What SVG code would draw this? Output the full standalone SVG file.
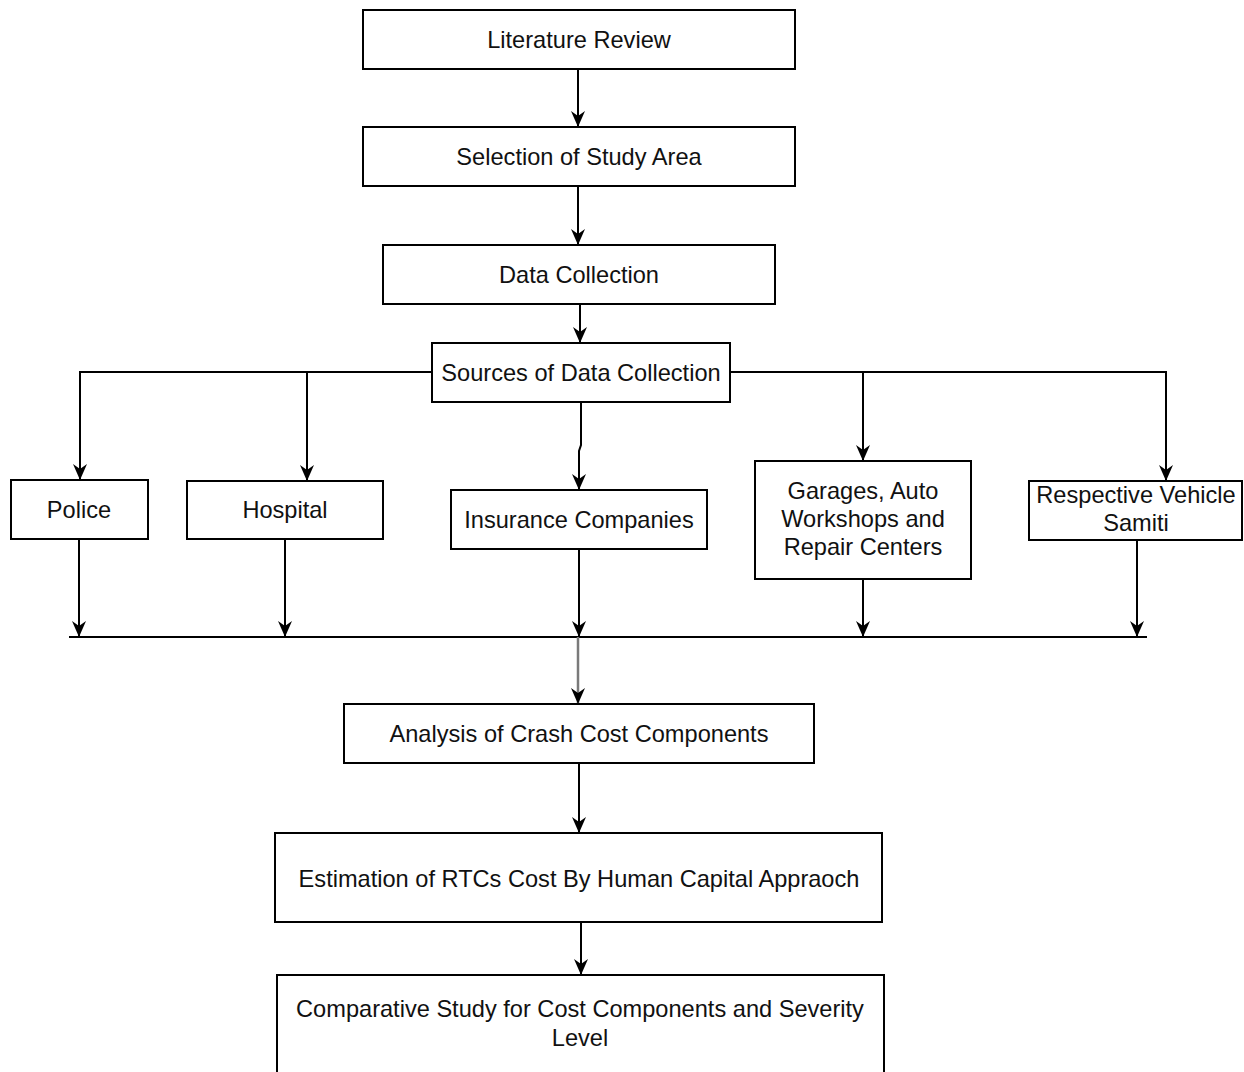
<svg xmlns="http://www.w3.org/2000/svg" width="1244" height="1072" viewBox="0 0 1244 1072">
<style>
.box{fill:#fff;stroke:#000;stroke-width:2}
.lbl{font-family:"Liberation Sans",Arial,sans-serif;font-size:23.6px;fill:#111;text-anchor:middle}
.edge{fill:none;stroke:#000;stroke-width:2}
.gray{fill:none;stroke:#7a7a7a;stroke-width:2.5}
</style>
<defs>
<marker id="arr" viewBox="0 0 16 14" refX="16" refY="7" markerWidth="16" markerHeight="14" markerUnits="userSpaceOnUse" orient="auto">
<path d="M0,0 L16,7 L0,14 L5,7 Z" fill="#000"/>
</marker>
</defs>
<rect width="1244" height="1072" fill="#fff"/>
<g id="connectors">
<path class="edge" d="M578,69 V127" marker-end="url(#arr)"/>
<path class="edge" d="M578,186 V245" marker-end="url(#arr)"/>
<path class="edge" d="M580,304 V343" marker-end="url(#arr)"/>
<path class="edge" d="M432,372 H80 V480" marker-end="url(#arr)"/>
<path class="edge" d="M307,372 V481" marker-end="url(#arr)"/>
<path class="edge" d="M730,372 H1166 V481" marker-end="url(#arr)"/>
<path class="edge" d="M863,372 V461" marker-end="url(#arr)"/>
<path class="edge" d="M581,402 V445 L579,451 V490" marker-end="url(#arr)"/>
<path class="edge" d="M79,539 V637" marker-end="url(#arr)"/>
<path class="edge" d="M285,539 V637" marker-end="url(#arr)"/>
<path class="edge" d="M579,549 V637" marker-end="url(#arr)"/>
<path class="edge" d="M863,579 V637" marker-end="url(#arr)"/>
<path class="edge" d="M1137,540 V637" marker-end="url(#arr)"/>
<path class="edge" d="M69,637 H1147"/>
<path class="gray" d="M578,637 V704" marker-end="url(#arr)"/>
<path class="edge" d="M579,763 V833" marker-end="url(#arr)"/>
<path class="edge" d="M581,922 V975" marker-end="url(#arr)"/>
</g>
<g id="literature-review">
<rect class="box" x="363" y="10" width="432" height="59"/>
<text class="lbl" x="579" y="48">Literature Review</text>
</g>
<g id="selection-study-area">
<rect class="box" x="363" y="127" width="432" height="59"/>
<text class="lbl" x="579" y="165">Selection of Study Area</text>
</g>
<g id="data-collection">
<rect class="box" x="383" y="245" width="392" height="59"/>
<text class="lbl" x="579" y="283">Data Collection</text>
</g>
<g id="sources">
<rect class="box" x="432" y="343" width="298" height="59"/>
<text class="lbl" x="581" y="381">Sources of Data Collection</text>
</g>
<g id="police">
<rect class="box" x="11" y="480" width="137" height="59"/>
<text class="lbl" x="79" y="518">Police</text>
</g>
<g id="hospital">
<rect class="box" x="187" y="481" width="196" height="58"/>
<text class="lbl" x="285" y="518">Hospital</text>
</g>
<g id="insurance">
<rect class="box" x="451" y="490" width="256" height="59"/>
<text class="lbl" x="579" y="528">Insurance Companies</text>
</g>
<g id="garages">
<rect class="box" x="755" y="461" width="216" height="118"/>
<text class="lbl" x="863" y="499">Garages, Auto</text>
<text class="lbl" x="863" y="527">Workshops and</text>
<text class="lbl" x="863" y="555">Repair Centers</text>
</g>
<g id="vehicle-samiti">
<rect class="box" x="1029" y="481" width="213" height="59"/>
<text class="lbl" x="1136" y="503">Respective Vehicle</text>
<text class="lbl" x="1136" y="531">Samiti</text>
</g>
<g id="analysis">
<rect class="box" x="344" y="704" width="470" height="59"/>
<text class="lbl" x="579" y="742">Analysis of Crash Cost Components</text>
</g>
<g id="estimation">
<rect class="box" x="275" y="833" width="607" height="89"/>
<text class="lbl" x="579" y="887">Estimation of RTCs Cost By Human Capital Appraoch</text>
</g>
<g id="comparative">
<rect class="box" x="277" y="975" width="607" height="110"/>
<text class="lbl" x="580" y="1017">Comparative Study for Cost Components and Severity</text>
<text class="lbl" x="580" y="1046">Level</text>
</g>
</svg>
